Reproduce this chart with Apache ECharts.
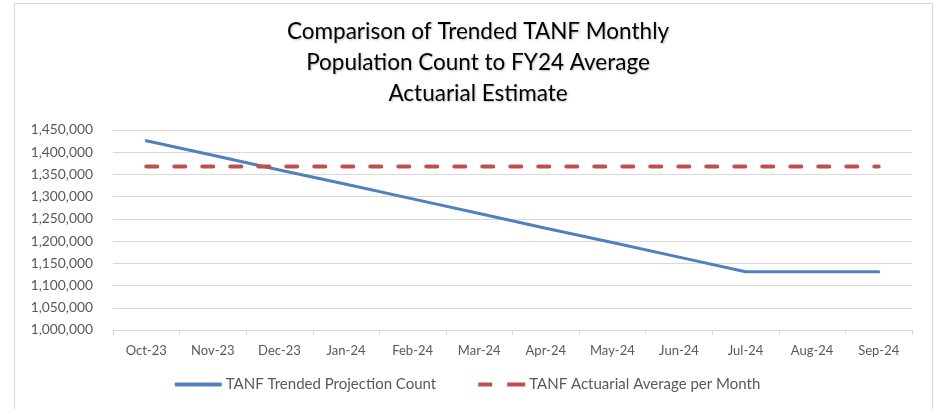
<!DOCTYPE html>
<html>
<head>
<meta charset="utf-8">
<script src="https://cdn.jsdelivr.net/npm/echarts@6/dist/echarts.min.js"></script>
<style>
  html, body { margin: 0; padding: 0; background: #fff; }
  #main { width: 935px; height: 409px; }
</style>
</head>
<body>
<div id="main"></div>
<script>
// months of FY24
var months = ['Oct-23', 'Nov-23', 'Dec-23', 'Jan-24', 'Feb-24', 'Mar-24',
  'Apr-24', 'May-24', 'Jun-24', 'Jul-24', 'Aug-24', 'Sep-24'];
var trended = [1426000, 1393000, 1360000, 1328000, 1295000, 1262000,
  1229000, 1197000, 1164000, 1131000, 1131000, 1131000];
var actuarial = [1368000, 1368000, 1368000, 1368000, 1368000, 1368000,
  1368000, 1368000, 1368000, 1368000, 1368000, 1368000];
var seriesNames = ['TANF Trended Projection Count', 'TANF Actuarial Average per Month'];

var font = 'Lato, "Open Sans", sans-serif';
var chart = echarts.init(document.getElementById('main'));
chart.setOption({
  animation: false,
  textStyle: { fontFamily: font },
  title: {
    text: 'Comparison of Trended TANF Monthly\nPopulation Count to FY24 Average\nActuarial Estimate',
    left: 473, top: 11, textAlign: 'center',
    textStyle: {
      fontFamily: font, fontSize: 22.5, fontWeight: 'normal', color: '#000',
      lineHeight: 31, textShadowColor: 'rgba(0,0,0,0.25)', textShadowBlur: 2,
      textShadowOffsetX: 1, textShadowOffsetY: 1
    }
  },
  graphic: [{
    type: 'rect', left: 12, top: 1,
    shape: { width: 918, height: 420 },
    style: { fill: 'none', stroke: '#d9d9d9', lineWidth: 1 }, silent: true
  }],
  legend: {
    bottom: 12, left: 'center', itemGap: 42, itemWidth: 47, itemHeight: 4,
    textStyle: { fontFamily: font, fontSize: 15, color: '#595959', padding: [0, 0, 0, -1] },
    data: [
      { name: seriesNames[0], icon: 'roundRect', itemStyle: { color: '#4f81bd', borderWidth: 0 } },
      { name: seriesNames[1], icon: 'path://M0,0H14V4H0Z M29,0H47V4H29Z', itemStyle: { color: '#c0504d', borderWidth: 0 } }
    ]
  },
  grid: { left: 113, right: 23, top: 130, bottom: 79 },
  xAxis: {
    type: 'category', data: months, boundaryGap: true,
    axisLine: { lineStyle: { color: '#d9d9d9' } },
    axisTick: { show: true, alignWithLabel: false, length: 5, lineStyle: { color: '#d9d9d9' } },
    axisLabel: { color: '#595959', fontSize: 13, margin: 14, fontFamily: font }
  },
  yAxis: {
    type: 'value', min: 1000000, max: 1450000, interval: 50000,
    axisLine: { show: false }, axisTick: { show: false },
    splitLine: { lineStyle: { color: '#d9d9d9' } },
    axisLabel: {
      color: '#595959', fontSize: 13.8, margin: 20, fontFamily: font,
      formatter: function (v) { return v.toLocaleString('en-US'); }
    }
  },
  series: [{
    name: seriesNames[0], type: 'line', data: trended,
    symbol: 'none', lineStyle: { color: '#4f81bd', width: 3, cap: 'round' },
    itemStyle: { color: '#4f81bd' }
  }, {
    name: seriesNames[1], type: 'line', data: actuarial,
    symbol: 'none',
    lineStyle: { color: '#c0504d', width: 4, type: [11, 17], cap: 'round' },
    itemStyle: { color: '#c0504d' }
  }]
});
</script>
</body>
</html>
